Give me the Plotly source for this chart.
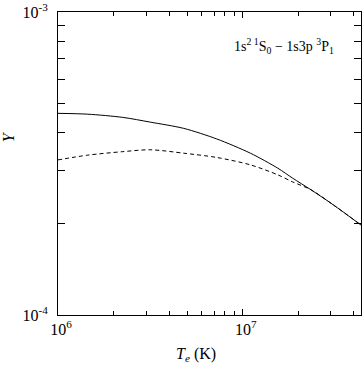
import plotly.graph_objects as go

# electron temperature (K) and effective collision strengths
temps = [1.0e6, 1.45e6, 2.24e6, 3.16e6, 4.79e6, 7.24e6, 1.10e7, 1.55e7, 1.86e7, 2.34e7, 3.09e7, 4.37e7]
ups_solid = [4.63e-4, 4.60e-4, 4.49e-4, 4.33e-4, 4.13e-4, 3.81e-4, 3.42e-4, 3.05e-4, 2.83e-4, 2.59e-4, 2.31e-4, 1.98e-4]
ups_dash = [3.25e-4, 3.37e-4, 3.46e-4, 3.51e-4, 3.42e-4, 3.31e-4, 3.13e-4, 2.90e-4, 2.75e-4, 2.59e-4, 2.31e-4, 1.98e-4]

x_major = [1e6, 1e7]
x_major_text = ["10<sup>6</sup>", "10<sup>7</sup>"]
x_minor = [2e6, 3e6, 4e6, 5e6, 6e6, 7e6, 8e6, 9e6, 2e7, 3e7, 4e7]
y_major = [1e-4, 1e-3]
y_major_text = ["10<sup>-4</sup>", "10<sup>-3</sup>"]
y_minor = [2e-4, 3e-4, 4e-4, 5e-4, 6e-4, 7e-4, 8e-4, 9e-4]

FONT = "Liberation Serif"

fig = go.Figure()
fig.add_trace(go.Scatter(
    x=temps, y=ups_solid, mode="lines",
    line=dict(color="black", width=1, shape="spline", smoothing=0.8),
))
fig.add_trace(go.Scatter(
    x=temps, y=ups_dash, mode="lines",
    line=dict(color="black", width=1, dash="4px,3px", shape="spline", smoothing=0.8),
))

fig.add_annotation(
    x=0.747, y=0.888, xref="paper", yref="paper", showarrow=False,
    xanchor="center", yanchor="middle",
    text="1s<sup>2 1</sup>S<sub>0</sub> \u2212 1s3p <sup>3</sup>P<sub>1</sub>",
    font=dict(family=FONT, size=14, color="black"),
)
fig.add_annotation(
    x=0.455, y=-0.129, xref="paper", yref="paper", showarrow=False,
    xanchor="center", yanchor="middle",
    text="<i>T<sub>e</sub></i> (K)",
    font=dict(family=FONT, size=16, color="black"),
)
fig.add_annotation(
    x=-0.165, y=0.587, xref="paper", yref="paper", showarrow=False,
    xanchor="center", yanchor="middle",
    text="<i>\u03a5</i>", textangle=-90,
    font=dict(family=FONT, size=16, color="black"),
)

# all ticks (minor ones unlabelled) on the main axes
x_ticks = x_major + x_minor
x_text = x_major_text + [""] * len(x_minor)
y_ticks = y_major + y_minor
y_text = y_major_text + [""] * len(y_minor)

fig.update_layout(
    width=362, height=365,
    margin=dict(l=58, r=1, t=12, b=50),
    showlegend=False,
    plot_bgcolor="white", paper_bgcolor="white",
    font=dict(family=FONT, size=16, color="black"),
    xaxis=dict(
        type="log", range=[6, 7.64], automargin=False,
        showline=True, linecolor="black", linewidth=1, mirror="ticks",
        showgrid=False, zeroline=False,
        ticks="inside", ticklen=4, tickcolor="black",
        tickmode="array", tickvals=x_ticks, ticktext=x_text,
        ticklabelshift=3,
    ),
    # longer major ticks on x
    xaxis2=dict(
        type="log", range=[6, 7.64], overlaying="x", side="bottom",
        automargin=False, showline=False, mirror="ticks",
        showgrid=False, zeroline=False, showticklabels=False,
        ticks="inside", ticklen=6, tickcolor="black",
        tickmode="array", tickvals=x_major,
    ),
    yaxis=dict(
        type="log", range=[-4, -3], automargin=False,
        showline=True, linecolor="black", linewidth=1, mirror="ticks",
        showgrid=False, zeroline=False,
        ticks="inside", ticklen=7, tickcolor="black",
        tickmode="array", tickvals=y_ticks, ticktext=y_text,
        ticklabelstandoff=6,
    ),
)
# dummy trace so the second x axis is drawn
fig.add_trace(go.Scatter(x=[temps[0]], y=[ups_solid[0]], xaxis="x2",
                         mode="markers", marker=dict(opacity=0),
                         hoverinfo="skip"))

# drop the page's default body margin so the figure sits at the window corner
fig.write_html(
    "out.html",
    config={"displayModeBar": False},
    post_script="document.body.style.margin='0';"
                "document.documentElement.style.overflow='hidden';",
)
